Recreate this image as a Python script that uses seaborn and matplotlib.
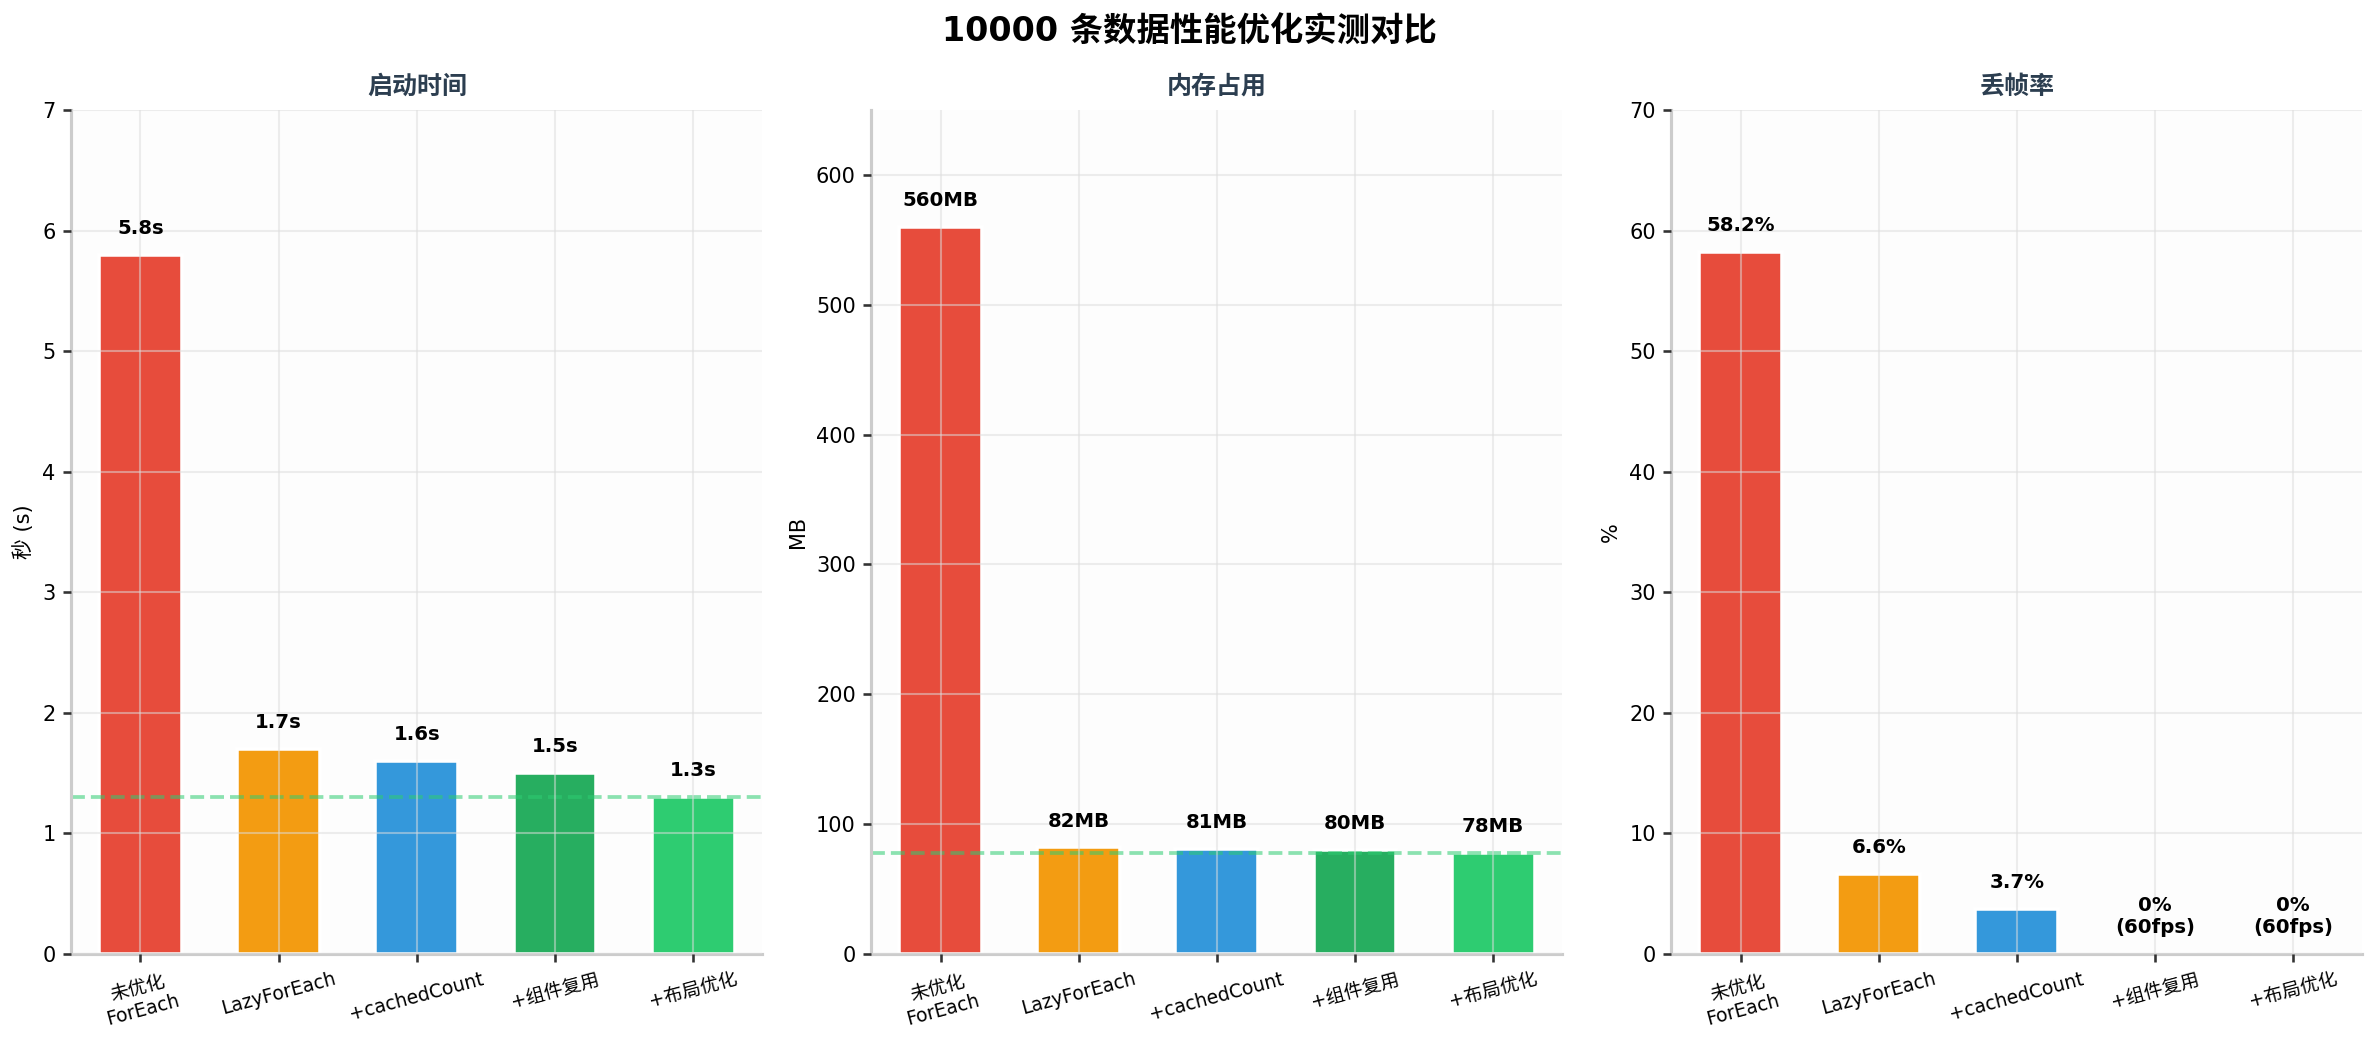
import numpy as np
import pandas as pd
import matplotlib
matplotlib.use('Agg')
import matplotlib.pyplot as plt
import seaborn as sns


# Datos
categories = ['未优化\nForEach', 'LazyForEach', '+cachedCount', '+组件复用', '+布局优化']
startup_s = [5.8, 1.7, 1.6, 1.5, 1.3]
memory_mb = [560, 82, 81, 80, 78]
drop_pct = [58.2, 6.6, 3.7, 0, 0]
colors = ['#e74c3c', '#f39c12', '#3498db', '#27ae60', '#2ecc71']

startup_labels = [f'{v}s' for v in startup_s]
memory_labels = [f'{v}MB' for v in memory_mb]
drop_labels = [f'{v}%' if v > 0 else '0%\n(60fps)' for v in drop_pct]


# Estilo
sns.set_theme(style='ticks')
plt.rcParams['font.family'] = ['DejaVu Sans', 'Noto Sans CJK SC']
plt.rcParams['axes.unicode_minus'] = False
plt.rcParams['text.color'] = 'black'
plt.rcParams['axes.labelcolor'] = 'black'
plt.rcParams['xtick.color'] = 'black'
plt.rcParams['ytick.color'] = 'black'

fig, axes = plt.subplots(1, 3, figsize=(15.86, 6.927), dpi=150)
fig.subplots_adjust(left=0.030, right=0.993, bottom=0.082, top=0.894, wspace=0.158)

panels = [
    ('启动时间', '秒 (s)', startup_s, startup_labels, 7, startup_s[-1]),
    ('内存占用', 'MB', memory_mb, memory_labels, 650, memory_mb[-1]),
    ('丢帧率', '%', drop_pct, drop_labels, 70, None),
]

for ax, (title, ylabel, values, labels, ymax, target) in zip(axes, panels):
    df = pd.DataFrame({'step': categories, 'value': values})
    sns.barplot(data=df, x='step', y='value', hue='step', palette=colors,
                legend=False, width=0.6, edgecolor='white', linewidth=1.7,
                saturation=1, ax=ax)

    # etiquetas de valor
    for i, (v, lab) in enumerate(zip(values, labels)):
        ax.text(i, v + ymax * 0.02, lab, ha='center', va='bottom',
                fontsize=9.5, fontweight='bold', color='black')

    if target is not None:
        ax.axhline(target, color='#2ecc71', linestyle='--', linewidth=1.8, alpha=0.55)

    ax.set_ylim(0, ymax)
    ax.set_facecolor('#fdfdfd')
    ax.set_axisbelow(False)
    ax.grid(True, color='#dddddd', alpha=0.5, linewidth=1)
    ax.set_title(title, fontsize=12, fontweight='bold', color='#2c3e50', pad=8)
    ax.set_ylabel(ylabel, fontsize=10)
    ax.set_xlabel('')
    ax.tick_params(axis='y', labelsize=10, length=4, color='#333333')
    ax.tick_params(axis='x', labelsize=9, length=4, color='#333333', rotation=15)
    for sp in ['top', 'right']:
        ax.spines[sp].set_visible(False)
    for sp in ['left', 'bottom']:
        ax.spines[sp].set_color('#cccccc')
        ax.spines[sp].set_linewidth(1.5)

fig.suptitle('10000 条数据性能优化实测对比', fontsize=16, fontweight='bold', y=0.985)

plt.savefig('out.png', dpi=150)
